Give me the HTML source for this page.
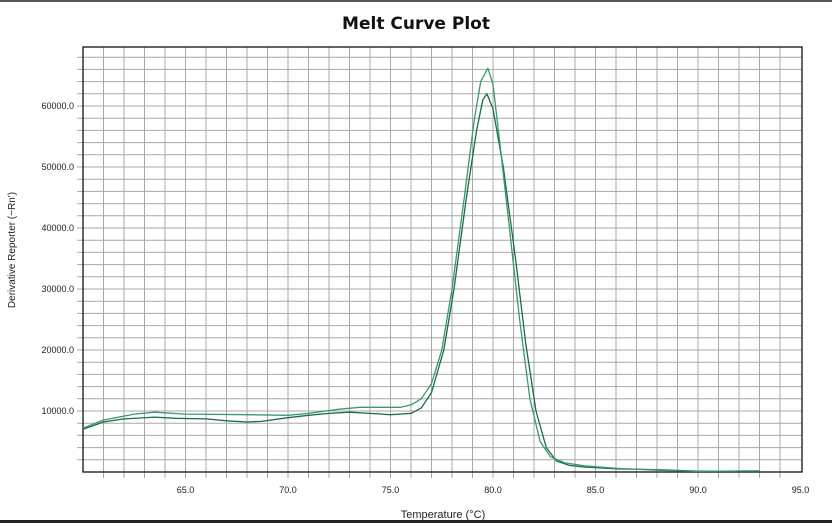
<!DOCTYPE html>
<html><head><meta charset="utf-8"><style>
body{margin:0;background:#fff;width:832px;height:523px;overflow:hidden;font-family:"Liberation Sans",sans-serif}
</style></head><body>
<svg id="s" width="832" height="523" xmlns="http://www.w3.org/2000/svg" font-family="Liberation Sans, sans-serif">
<rect x="0" y="0" width="832" height="2" fill="#555"/>
<rect x="0" y="520" width="832" height="3" fill="#222"/>
<text x="416" y="29" text-anchor="middle" font-size="17" font-weight="bold" font-family="DejaVu Sans, sans-serif" fill="#111">Melt Curve Plot</text>
<text x="443" y="518" text-anchor="middle" font-size="11" fill="#222">Temperature (°C)</text>
<text transform="translate(15,250) rotate(-90)" text-anchor="middle" font-size="10" fill="#222">Derivative Reporter (−Rn')</text>
<g id="g"></g>
</svg>
<script>
const g=document.getElementById('g');const L=83,T=47,R=802,B=472;
const X=t=>L+(t-60)*20.5, Y=v=>B-v*0.0061;
let h='';
for(let t=61;t<95;t++){const x=X(t);h+=`<line x1="${x}" y1="${T}" x2="${x}" y2="${B+6}" stroke="#a8a8a8" stroke-width="1"/>`;}
for(let v=2000;v<70000;v+=2000){const y=Y(v);if(y<T)break;h+=`<line x1="${L-6}" y1="${y}" x2="${R}" y2="${y}" stroke="#a8a8a8" stroke-width="1"/>`;}
for(let t=65;t<=95;t+=5)h+=`<text x="${X(t)}" y="${B+21}" text-anchor="middle" font-size="9" fill="#222">${t}.0</text>`;
for(let v=10000;v<=60000;v+=10000)h+=`<text x="${L-9}" y="${Y(v)+3}" text-anchor="end" font-size="9" fill="#222">${v}.0</text>`;
h+=`<rect x="${L}" y="${T}" width="${R-L}" height="${B-T}" fill="none" stroke="#111" stroke-width="1.3"/>`;
const A=[[60,7200],[61,8500],[62.5,9500],[63.5,9800],[65,9500],[68,9400],[70,9300],[71,9600],[72.5,10300],[73.5,10600],[75.5,10600],[76,11000],[76.5,12000],[77,14500],[77.5,20000],[78,30000],[78.6,45000],[79.1,58000],[79.4,64000],[79.75,66200],[80,63500],[80.3,55000],[80.8,40000],[81.3,25000],[81.8,12000],[82.3,5000],[82.8,2500],[83.5,1500],[84.5,1000],[86,600],[88,300],[90,100],[93,200]];
const Bc=[[60,7000],[61,8200],[62,8700],[63.5,9000],[64.5,8800],[66,8700],[67,8400],[68,8200],[68.7,8300],[70,8900],[71,9300],[72,9600],[73,9800],[74,9600],[75,9400],[76,9600],[76.5,10500],[77,13000],[77.6,20000],[78.1,30000],[78.7,45000],[79.2,56000],[79.5,61000],[79.7,62000],[80,59500],[80.5,50000],[81.1,35000],[81.6,21000],[82.1,10000],[82.6,4000],[83.1,1800],[83.7,1100],[84.5,800],[86,500],[88,400],[90,150],[93,150]];
function path(d){let p='';for(let i=0;i<d.length;i++){const [t,v]=d[i];p+=(i?'L':'M')+X(t).toFixed(1)+','+Y(v).toFixed(1);}return p;}
h+=`<path d="${path(Bc)}" fill="none" stroke="#1d6b48" stroke-width="1.3" stroke-linejoin="round"/>`;
h+=`<path d="${path(A)}" fill="none" stroke="#3a9a6a" stroke-width="1.3" stroke-linejoin="round"/>`;
g.innerHTML=h;
</script>
</body></html>
